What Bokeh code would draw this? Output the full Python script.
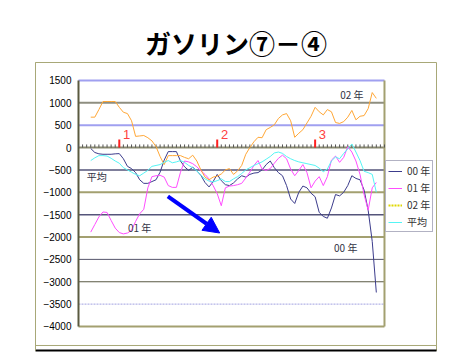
from bokeh.plotting import figure
from bokeh.models import (Range1d, FixedTicker, Label, Legend, LegendItem,
                          LinearAxis, Arrow, NormalHead)
from bokeh.embed import file_html
from bokeh.resources import INLINE

# ---------------- data ----------------
days = list(range(3, 74))

s00 = [-20, -110, -140, -150, -150, -150, -140, -135, -250, -420,
       -470, -560, -720, -800, -800, -760, -720, -550, -280, -90,
       -90, -90, -300, -430, -510, -440, -520, -620, -780, -880,
       -760, -600, -740, -830, -850, -790, -700, -630, -660, -600,
       -570, -560, -500, -380, -300, -450, -560, -630, -850, -1150,
       -1250, -1000, -860, -900, -1020, -1100, -1450, -1540, -1580, -1350,
       -1050, -1080, -1000, -850, -630, -690, -720, -950, -1400, -2100,
       -3240]

s01 = [-1890, -1720, -1550, -1440, -1450, -1630, -1800, -1900, -1930, -1910,
       -1850, -1650, -1480, -1380, -900, -650, -630, -620, -660, -850,
       -890, -890, -550, -300, -320, -360, -430, -520, -600, -700,
       -850, -1030, -1300, -900, -860, -850, -830, -800, -680, -550,
       -400, -290, -480, -510, -470, -350, -240, -170, -250, -480,
       -630, -510, -380, -560, -900, -750, -650, -850, -650, -280,
       -190, -330, -220, 20, -100, -300, -600, -1050, -1400, -900,
       -780]

s02 = [680, 680, 850, 1030, 1030, 1030, 1030, 900, 790, 760,
       600, 250, 260, 270, 220, 150, 20, -200, -380, -180,
       -180, -180, -180, -220, -250, -170, -300, -500, -660, -720,
       -660, -640, -590, -500, -470, -600, -520, -400, -150, 0,
       130, 230, 220, 400, 450, 510, 650, 730, 760, 600,
       230, 320, 400, 550, 700, 900, 800, 730, 850, 800,
       560, 540, 580, 680, 830, 620, 700, 715, 870, 1230,
       1100]

avg = [-290, -230, -180, -180, -190, -240, -300, -350, -450, -500,
       -550, -600, -630, -570, -510, -420, -400, -380, -330, -290,
       -340, -320, -290, -330, -400, -450, -520, -620, -700, -750,
       -770, -740, -700, -760, -760, -700, -650, -580, -500, -450,
       -400, -360, -320, -260, -200, -120, -100, -130, -200, -250,
       -290, -320, -340, -360, -380, -400, -460, -540, -480, -300,
       -210, -250, -130, -30, 80, -100, -290, -530, -560, -600,
       -1000]

series_names = ["00 年", "01 年", "02 年", "平均"]
y_ticks = [1500, 1000, 500, 0, -500, -1000, -1500, -2000, -2500, -3000, -3500, -4000]
month_ticks = [10, 34, 58]
month_labels = ["1", "2", "3"]
minor_ticks = list(range(0, 76))
X_MIN, X_MAX = 0, 75          # plot-area category extent
Y_MIN, Y_MAX = -4000, 1500    # plot-area value extent

# ---------------- figure ----------------
JP = "Noto Sans CJK JP"
# the frame is the outer chart box; the plot area sits inside it
p = figure(width=467, height=354, output_backend="svg", toolbar_location=None,
           x_range=Range1d(-10.54, 87.75), y_range=Range1d(-4537, 1902),
           x_axis_location=None,
           min_border_left=35, min_border_right=31, min_border_top=62,
           min_border_bottom=4, background_fill_color="white",
           border_fill_color="white")
p.xgrid.visible = False
p.ygrid.visible = False
p.outline_line_color = "#a8a878"
p.outline_line_width = 1

# title
p.title.text = "ガソリン⑦－④"
p.title.align = "center"
p.title.text_font = JP
p.title.text_font_style = "bold"
p.title.text_font_size = "26px"
p.title.text_color = "black"
p.title.standoff = 4

ax = p.yaxis[0]
ax.ticker = FixedTicker(ticks=y_ticks)
ax.major_label_text_font = "Liberation Sans"
ax.major_label_text_font_size = "10px"
ax.major_label_text_color = "black"
ax.major_tick_in = 0
ax.major_tick_out = 0
ax.minor_tick_in = 0
ax.minor_tick_out = 0
ax.major_label_standoff = -36
ax.axis_line_color = "#a8a878"
ax.axis_line_width = 1

# black rule under the chart box
bottom_rule = LinearAxis(axis_line_color="black", axis_line_width=2,
                         major_tick_in=0, major_tick_out=0,
                         minor_tick_in=0, minor_tick_out=0,
                         major_label_text_font_size="0px",
                         ticker=FixedTicker(ticks=[]))
p.add_layout(bottom_rule, "below")

# chart-box bottom edge (the frame extends a few px lower for the black rule)
p.segment(x0=[p.x_range.start], x1=[p.x_range.end], y0=[-4425], y1=[-4425],
          line_color="#a8a878", line_width=1)

# gridlines (individual colours as in the original)
def grid(vals, color, width, dash="solid"):
    p.segment(x0=[X_MIN] * len(vals), x1=[X_MAX] * len(vals), y0=vals, y1=vals,
              line_color=color, line_width=width, line_dash=dash)

grid([1500, 500], "#a0a0f0", 2)
grid([1000], "#8e8e80", 2)
grid([-1000, -2000, -4000], "#a3a070", 2)
grid([-500, -1500], "#55557a", 1.5)
grid([-2500], "#55556a", 1)
grid([-3000], "#5a5a44", 1)
grid([-3500], "#a0a0e0", 1, "2 1")
grid([0], "#8a8a70", 2)
# plot-area left and right edges
p.segment(x0=[X_MIN], x1=[X_MIN], y0=[Y_MIN], y1=[Y_MAX],
          line_color="#5a5a40", line_width=2)
p.segment(x0=[X_MAX], x1=[X_MAX], y0=[Y_MIN], y1=[Y_MAX],
          line_color="#a3a070", line_width=2)

# category ticks on the zero line
p.segment(x0=minor_ticks, y0=[0] * len(minor_ticks), x1=minor_ticks,
          y1=[70] * len(minor_ticks), line_color="#555555", line_width=1)
p.segment(x0=month_ticks, y0=[0] * 3, x1=month_ticks, y1=[180] * 3,
          line_color="#ff2020", line_width=2)
for mt, ml in zip(month_ticks, month_labels):
    p.add_layout(Label(x=mt + 1.8, y=300, text=ml, text_color="#ff4040",
                       text_font="Liberation Sans", text_font_size="13px",
                       text_align="center", text_baseline="middle"))

# series
r00 = p.line(days, s00, line_color="#3c3c8c", line_width=1)
r01 = p.line(days, s01, line_color="#ff4dff", line_width=1)
r02 = p.line(days, s02, line_color="#ffa736", line_width=1)
rav = p.line(days, avg, line_color="#55f5f5", line_width=1)
# legend key for 02 (drawn as a dotted yellow line in the original legend)
r02_key = p.line([days[0], days[0]], [float("nan"), float("nan")],
                 line_color="#e0d800", line_width=2, line_dash="2 1")

# in-chart labels
for x, y, t in [(67, 1190, "02 年"), (15, -1790, "01 年"),
                (65.5, -2240, "00 年"), (4.5, -650, "平均")]:
    p.add_layout(Label(x=x, y=y, text=t, text_color="#333344", text_font=JP,
                       text_font_size="10px", text_align="center",
                       text_baseline="middle"))

# blue arrow
p.add_layout(Arrow(x_start=21.9, y_start=-1090, x_end=34.6, y_end=-1910,
                   line_color="#0000ff", line_width=4,
                   end=NormalHead(size=16, fill_color="#0000ff",
                                  line_color="#0000ff")))

# legend
legend = Legend(items=[LegendItem(label=series_names[0], renderers=[r00]),
                       LegendItem(label=series_names[1], renderers=[r01]),
                       LegendItem(label=series_names[2], renderers=[r02_key]),
                       LegendItem(label=series_names[3], renderers=[rav])],
                location=(350, 118), margin=0, padding=2, spacing=2,
                glyph_width=14, glyph_height=14, label_height=14,
                label_standoff=5, label_text_font=JP,
                label_text_font_size="10px", label_text_color="#333333",
                border_line_color="#666688", border_line_width=1,
                background_fill_color="white", background_fill_alpha=1)
p.add_layout(legend)

open("out.html", "w").write(file_html(p, INLINE))
